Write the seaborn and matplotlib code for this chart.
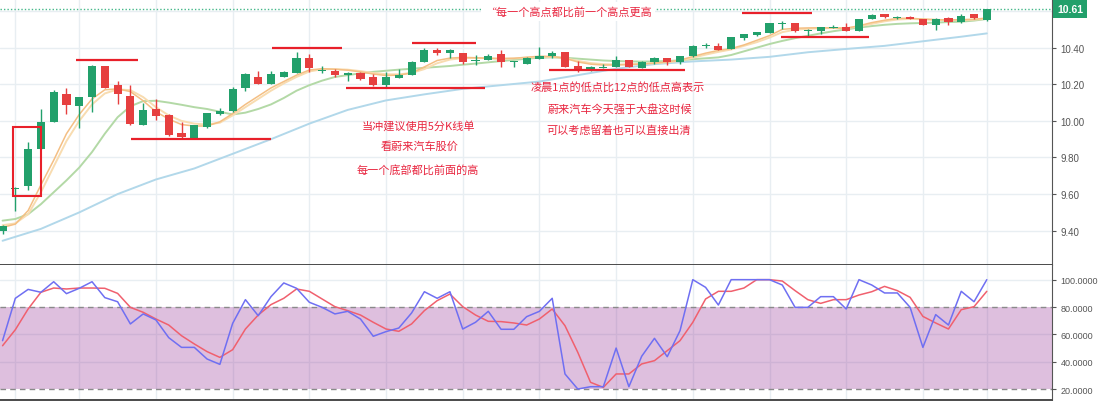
import numpy as np
import pandas as pd
import matplotlib
matplotlib.use("Agg")
import matplotlib.pyplot as plt
import matplotlib.transforms as mtransforms
from matplotlib.patches import Rectangle
import seaborn as sns

# 蔚来汽车 5分K线 (index -1 .. 76)
opens = [9.40, 9.630, 9.644, 9.846, 9.996, 10.149, 10.079, 10.128, 10.299, 10.196,
         10.138, 9.976, 10.066, 10.032, 9.934, 9.903, 9.967, 10.039, 10.052, 10.182,
         10.242, 10.201, 10.239, 10.262, 10.342, 10.274, 10.275, 10.253, 10.262, 10.239,
         10.198, 10.235, 10.250, 10.321, 10.385, 10.372, 10.371, 10.325, 10.330, 10.363,
         10.322, 10.311, 10.340, 10.356, 10.375, 10.302, 10.280, 10.291, 10.293, 10.333,
         10.291, 10.320, 10.342, 10.320, 10.353, 10.408, 10.411, 10.393, 10.453, 10.471,
         10.479, 10.531, 10.535, 10.493, 10.493, 10.509, 10.513, 10.493, 10.557, 10.584,
         10.564, 10.569, 10.557, 10.524, 10.562, 10.539, 10.584, 10.553]
highs = [9.43, 9.640, 9.886, 10.064, 10.167, 10.180, 10.130, 10.308, 10.300, 10.220,
         10.198, 10.097, 10.119, 10.039, 9.994, 9.979, 10.045, 10.072, 10.184, 10.260,
         10.275, 10.273, 10.275, 10.375, 10.366, 10.302, 10.284, 10.269, 10.266, 10.257,
         10.268, 10.281, 10.327, 10.400, 10.400, 10.394, 10.371, 10.361, 10.363, 10.385,
         10.325, 10.351, 10.405, 10.380, 10.375, 10.325, 10.302, 10.311, 10.356, 10.333,
         10.326, 10.347, 10.342, 10.354, 10.415, 10.426, 10.426, 10.457, 10.475, 10.484,
         10.535, 10.544, 10.535, 10.502, 10.513, 10.526, 10.535, 10.557, 10.584, 10.584,
         10.571, 10.571, 10.557, 10.562, 10.566, 10.584, 10.584, 10.611]
lows = [9.38, 9.506, 9.624, 9.846, 9.993, 10.039, 9.960, 10.051, 10.180, 10.092,
        9.978, 9.976, 10.005, 9.920, 9.905, 9.900, 9.961, 10.030, 10.050, 10.164,
        10.200, 10.200, 10.239, 10.262, 10.269, 10.262, 10.239, 10.217, 10.226, 10.193,
        10.185, 10.235, 10.250, 10.321, 10.358, 10.345, 10.312, 10.305, 10.330, 10.295,
        10.295, 10.311, 10.340, 10.342, 10.293, 10.265, 10.274, 10.291, 10.293, 10.293,
        10.291, 10.311, 10.305, 10.311, 10.351, 10.397, 10.389, 10.393, 10.444, 10.466,
        10.479, 10.502, 10.484, 10.466, 10.475, 10.506, 10.493, 10.493, 10.557, 10.562,
        10.557, 10.557, 10.524, 10.499, 10.526, 10.535, 10.557, 10.544]
closes = [9.425, 9.635, 9.846, 9.996, 10.160, 10.088, 10.128, 10.299, 10.180, 10.149,
          9.983, 10.061, 10.024, 9.921, 9.912, 9.976, 10.043, 10.056, 10.175, 10.257,
          10.201, 10.255, 10.266, 10.342, 10.291, 10.276, 10.251, 10.262, 10.230, 10.198,
          10.239, 10.253, 10.323, 10.385, 10.372, 10.385, 10.321, 10.327, 10.352, 10.323,
          10.324, 10.344, 10.354, 10.371, 10.293, 10.274, 10.293, 10.296, 10.333, 10.293,
          10.324, 10.342, 10.320, 10.354, 10.411, 10.411, 10.389, 10.457, 10.475, 10.484,
          10.535, 10.534, 10.493, 10.498, 10.513, 10.513, 10.493, 10.557, 10.579, 10.566,
          10.566, 10.557, 10.526, 10.557, 10.539, 10.575, 10.562, 10.611]

# 均线
ma_fast = [9.418, 9.436, 9.51, 9.65, 9.785, 9.93, 10.035, 10.12, 10.17, 10.175,
           10.16, 10.11, 10.05, 10.01, 9.98, 9.972, 9.972, 9.995, 10.04, 10.09,
           10.135, 10.18, 10.215, 10.25, 10.278, 10.285, 10.282, 10.277, 10.268, 10.256,
           10.248, 10.25, 10.262, 10.295, 10.33, 10.343, 10.347, 10.345, 10.342, 10.34,
           10.342, 10.348, 10.353, 10.352, 10.342, 10.322, 10.31, 10.305, 10.306, 10.308,
           10.311, 10.316, 10.322, 10.332, 10.352, 10.37, 10.385, 10.395, 10.415, 10.44,
           10.466, 10.50, 10.506, 10.508, 10.509, 10.508, 10.506, 10.52, 10.537, 10.55,
           10.56, 10.561, 10.556, 10.553, 10.552, 10.553, 10.555, 10.562]
ma_fast2 = [9.43, 9.44, 9.49, 9.61, 9.75, 9.89, 10.00, 10.09, 10.15, 10.172,
            10.168, 10.13, 10.075, 10.03, 10.0, 9.985, 9.98, 9.99, 10.03, 10.075,
            10.12, 10.165, 10.205, 10.24, 10.27, 10.282, 10.283, 10.28, 10.272, 10.262,
            10.255, 10.254, 10.262, 10.283, 10.315, 10.335, 10.343, 10.344, 10.342, 10.34,
            10.341, 10.345, 10.35, 10.35, 10.343, 10.328, 10.316, 10.31, 10.308, 10.309,
            10.311, 10.315, 10.32, 10.328, 10.345, 10.362, 10.377, 10.39, 10.41, 10.43,
            10.455, 10.485, 10.498, 10.503, 10.506, 10.507, 10.506, 10.516, 10.53, 10.544,
            10.554, 10.557, 10.555, 10.552, 10.551, 10.551, 10.553, 10.558]
ma_mid = [9.455, 9.464, 9.49, 9.545, 9.61, 9.675, 9.745, 9.83, 9.93, 10.02,
          10.08, 10.108, 10.11, 10.10, 10.088, 10.075, 10.065, 10.05, 10.035, 10.045,
          10.065, 10.09, 10.125, 10.165, 10.195, 10.22, 10.24, 10.25, 10.26, 10.268,
          10.274, 10.28, 10.285, 10.29, 10.295, 10.30, 10.307, 10.313, 10.32, 10.327,
          10.333, 10.34, 10.345, 10.347, 10.345, 10.34, 10.335, 10.33, 10.327, 10.325,
          10.324, 10.325, 10.327, 10.331, 10.337, 10.342, 10.347, 10.36, 10.38, 10.40,
          10.42, 10.437, 10.452, 10.465, 10.478, 10.49, 10.50, 10.51, 10.518, 10.525,
          10.53, 10.533, 10.535, 10.537, 10.54, 10.542, 10.548, 10.557]
ma_slow_idx = [-1, 2, 5, 8, 11, 14, 17, 20, 23, 26, 29, 32, 35, 38, 41, 44, 47, 50,
               53, 56, 59, 62, 65, 68, 71, 74, 76]
ma_slow = [9.345, 9.41, 9.50, 9.60, 9.68, 9.74, 9.82, 9.90, 9.985, 10.06, 10.112, 10.145,
           10.175, 10.195, 10.215, 10.25, 10.285, 10.31, 10.325, 10.335, 10.35, 10.375,
           10.393, 10.41, 10.435, 10.46, 10.478]

# 随机指标
k_line = [55.5, 86.4, 92.9, 90.8, 98.5, 89.8, 93.7, 98.5, 86.9, 83.9,
          67.7, 75.0, 70.6, 57.7, 50.6, 50.6, 42.1, 38.2, 68.1, 85.4,
          73.7, 87.6, 97.6, 93.7, 83.5, 79.8, 75.0, 76.9, 71.3, 58.7,
          62.1, 64.7, 75.7, 91.2, 86.4, 91.2, 64.0, 68.9, 76.9, 63.8,
          63.8, 73.0, 76.9, 86.4, 31.2, 20.2, 21.9, 21.9, 50.1, 21.9,
          44.1, 57.2, 43.8, 62.8, 100, 94.4, 81.5, 100, 100, 100,
          100, 96.1, 79.8, 79.8, 87.6, 87.6, 78.6, 100, 96.1, 90.3,
          90.3, 79.8, 50.6, 74.5, 66.9, 91.5, 83.9, 100]
d_line = [51.8, 63.5, 78.6, 90.8, 93.9, 93.2, 93.9, 93.9, 93.7, 90.0,
          79.8, 76.2, 71.3, 66.9, 59.1, 53.1, 47.5, 43.3, 48.9, 64.0,
          74.2, 81.8, 86.4, 93.2, 91.5, 85.9, 80.3, 77.4, 74.2, 68.9,
          64.0, 62.3, 67.7, 77.4, 84.7, 89.5, 80.3, 74.2, 69.6, 69.4,
          68.4, 66.9, 71.3, 78.6, 66.4, 47.0, 25.1, 21.4, 31.2, 31.2,
          38.5, 40.9, 48.2, 55.5, 68.9, 85.9, 91.5, 91.5, 93.9, 100,
          100, 99.0, 92.0, 85.4, 82.7, 85.4, 85.4, 88.8, 91.2, 95.1,
          92.0, 87.1, 73.2, 68.4, 64.0, 78.1, 80.3, 91.5]

# 手绘标注: (起始K线, 结束K线, 价格)
marks = [(4.75, 9.6, 10.333), (9.05, 19.98, 9.90), (20.06, 25.54, 10.398),
         (25.9, 36.75, 10.18), (31.07, 36.0, 10.424), (41.76, 52.4, 10.278),
         (56.84, 62.3, 10.588), (59.9, 66.8, 10.46)]
last_price = 10.61
price_ticks = [9.40, 9.60, 9.80, 10.00, 10.20, 10.40]
osc_ticks = [20, 40, 60, 80, 100]

idx = list(range(-1, 77))
df = pd.DataFrame({'idx': idx, 'open': opens, 'high': highs, 'low': lows, 'close': closes})

sns.set_style("white")
plt.rcParams['font.family'] = ['Noto Sans CJK SC', 'DejaVu Sans']

UP, DOWN = '#22a06b', '#e63f3f'
RED = '#e8253f'
GRID = '#e8eef2'
AXC = '#555555'
TICKFONT = 'Liberation Sans'
grid_idx = [0, 5, 11, 17, 23, 29, 35, 41, 47, 53, 59, 65, 71, 76]

fig = plt.figure(figsize=(11.02, 4.02), dpi=100)
W, H = 1102, 402
ax = fig.add_axes([0, (H - 266) / H, 1052 / W, 266 / H])
ax2 = fig.add_axes([0, 1 / H, 1052 / W, 135 / H])

# ---- 主图 ----
ax.set_xlim(-1.2, 81.1)
ax.set_ylim(9.2126, 10.666)
for g in grid_idx:
    ax.axvline(g, color=GRID, lw=1, zorder=0)
for p in price_ticks + [10.60]:
    ax.axhline(p, color=GRID, lw=1, zorder=0)

sns.lineplot(x=ma_slow_idx, y=ma_slow, ax=ax, color='#b2d8ea', lw=1.4, zorder=2)
sns.lineplot(x=idx, y=ma_mid, ax=ax, color='#b3d9a6', lw=1.4, zorder=2)
sns.lineplot(x=idx, y=ma_fast2, ax=ax, color='#f8dcb0', lw=1.4, zorder=2)
sns.lineplot(x=idx, y=ma_fast, ax=ax, color='#f4bf84', lw=1.1, zorder=2)

colors = np.where(df['close'] >= df['open'], UP, DOWN)
body_lo = np.minimum(df['open'], df['close'])
body_h = np.maximum((df['close'] - df['open']).abs(), 0.005)
ax.vlines(df['idx'], df['low'], df['high'], colors=colors, lw=1, zorder=3)
ax.bar(df['idx'], body_h, bottom=body_lo, width=0.64, color=colors, zorder=4, linewidth=0)

# 当前价格线
ax.axhline(last_price, color='#45b88a', lw=1, ls=(0, (1, 1.5)), zorder=1)
trans = mtransforms.blended_transform_factory(ax.transAxes, ax.transData)
ax.text(1.005, last_price, f'{last_price:.2f}', transform=trans, ha='left', va='center',
        color='white', fontsize=7.5, fontweight='bold', family=TICKFONT,
        bbox=dict(boxstyle='square,pad=0.4', fc=UP, ec='none'), zorder=10, clip_on=False)

# 标注
for x0, x1, p in marks:
    ax.hlines(p, x0, x1, color='#e8202a', lw=1.6, zorder=6)
ax.add_patch(Rectangle((-0.15, 9.59), 2.15, 0.378, fill=False, ec='#e8202a', lw=1.5, zorder=6))

ax.text(43.25, 10.598, '“每一个高点都比前一个高点更高', ha='center', va='center', color=RED,
        fontsize=8, zorder=8, bbox=dict(boxstyle='square,pad=0.35', fc='white', ec='none'))
notes = [(31.5, 9.978, '当冲建议使用5分K线单'), (31.6, 9.864, '看蔚来汽车股价'),
         (31.5, 9.737, '每一个底部都比前面的高'),
         (47.1, 10.187, '凌晨1点的低点比12点的低点高表示'),
         (47.3, 10.07, '蔚来汽车今天强于大盘这时候'),
         (47.2, 9.956, '可以考虑留着也可以直接出清')]
for x, y, t in notes:
    ax.text(x, y, t, ha='center', va='center', color=RED, fontsize=8, zorder=8)

ax.yaxis.tick_right()
ax.set_yticks(price_ticks)
ax.set_yticklabels([f'{p:.2f}' for p in price_ticks], family=TICKFONT)
ax.set_xticks([])
ax.tick_params(axis='y', colors=AXC, labelsize=7, length=3, width=0.8, pad=3)
for s in ['top', 'left']:
    ax.spines[s].set_visible(False)
ax.spines['right'].set_color(AXC)
ax.spines['bottom'].set_color('#4a4a4a')
ax.spines['bottom'].set_linewidth(1.4)
ax.set_xlabel('')
ax.set_ylabel('')

# ---- 副图 随机指标 ----
ax2.set_xlim(-1.2, 81.1)
ax2.set_ylim(12.2, 110.7)
for g in grid_idx:
    ax2.axvline(g, color=GRID, lw=1, zorder=0)
for v in [40, 60, 100]:
    ax2.axhline(v, color=GRID, lw=1, zorder=0)
ax2.axhspan(20, 80, color='#9b3d9b', alpha=0.33, lw=0, zorder=1)
ax2.axhline(80, color='#8a8a8a', lw=1, ls=(0, (4, 3)), zorder=2)
ax2.axhline(20, color='#8a8a8a', lw=1, ls=(0, (4, 3)), zorder=2)
sns.lineplot(x=idx, y=d_line, ax=ax2, color='#f0606e', lw=1.1, zorder=3)
sns.lineplot(x=idx, y=k_line, ax=ax2, color='#6f6ff2', lw=1.1, zorder=4)

ax2.yaxis.tick_right()
ax2.set_yticks(osc_ticks)
ax2.set_yticklabels([f'{v:.4f}' for v in osc_ticks], family=TICKFONT)
ax2.set_xticks([])
ax2.set_xlabel('')
ax2.set_ylabel('')
ax2.tick_params(axis='y', colors=AXC, labelsize=6.5, length=3, width=0.8, pad=3)
for s in ['top', 'left']:
    ax2.spines[s].set_visible(False)
ax2.spines['right'].set_color(AXC)
ax2.spines['bottom'].set_color('#4a4a4a')
ax2.spines['bottom'].set_linewidth(1.4)

fig.savefig('out.png', dpi=100)
